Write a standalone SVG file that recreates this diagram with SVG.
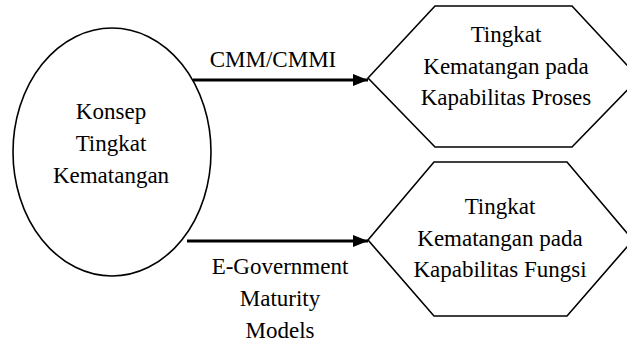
<svg xmlns="http://www.w3.org/2000/svg" width="627" height="344" viewBox="0 0 627 344">
  <style>
    .shape { fill: #ffffff; stroke: #000000; stroke-width: 1.6; }
    .conn { stroke: #000000; stroke-width: 3; fill: none; }
    .t { font-family: 'Liberation Serif', 'Times New Roman', Times, serif; font-size: 23px; fill: #000000; text-anchor: middle; }
  </style>
  <defs>
    <marker id="arrow" markerUnits="userSpaceOnUse" markerWidth="16" markerHeight="12" refX="15" refY="6" orient="auto">
      <path d="M0,0 L15,6 L0,12 Z" fill="#000000"/>
    </marker>
  </defs>
  <rect width="627" height="344" fill="#ffffff"/>
  <g id="node-konsep" font-family="Liberation Serif, serif">
    <ellipse class="shape" cx="112" cy="152" rx="99" ry="124"/>
    <text class="t" x="111" y="119">Konsep</text>
    <text class="t" x="111" y="151">Tingkat</text>
    <text class="t" x="111" y="183">Kematangan</text>
  </g>
  <g id="node-proses" font-family="Liberation Serif, serif">
    <polygon class="shape" points="368,78 435,6 572,6 639,78 572,147 435,147"/>
    <text class="t" x="506" y="42">Tingkat</text>
    <text class="t" x="506" y="74">Kematangan pada</text>
    <text class="t" x="506" y="105">Kapabilitas Proses</text>
  </g>
  <g id="node-fungsi" font-family="Liberation Serif, serif">
    <polygon class="shape" points="368,240 434,162 567,162 633,240 567,316 434,316"/>
    <text class="t" x="500" y="214">Tingkat</text>
    <text class="t" x="500" y="246">Kematangan pada</text>
    <text class="t" x="500" y="277">Kapabilitas Fungsi</text>
  </g>
  <g id="connectors" font-family="Liberation Serif, serif">
    <line class="conn" x1="193" y1="80" x2="368" y2="80" marker-end="url(#arrow)"/>
    <text class="t" x="273" y="67">CMM/CMMI</text>
    <line class="conn" x1="187" y1="241" x2="368" y2="241" marker-end="url(#arrow)"/>
    <text class="t" x="280" y="274">E-Government</text>
    <text class="t" x="280" y="306">Maturity</text>
    <text class="t" x="280" y="338">Models</text>
  </g>
</svg>
